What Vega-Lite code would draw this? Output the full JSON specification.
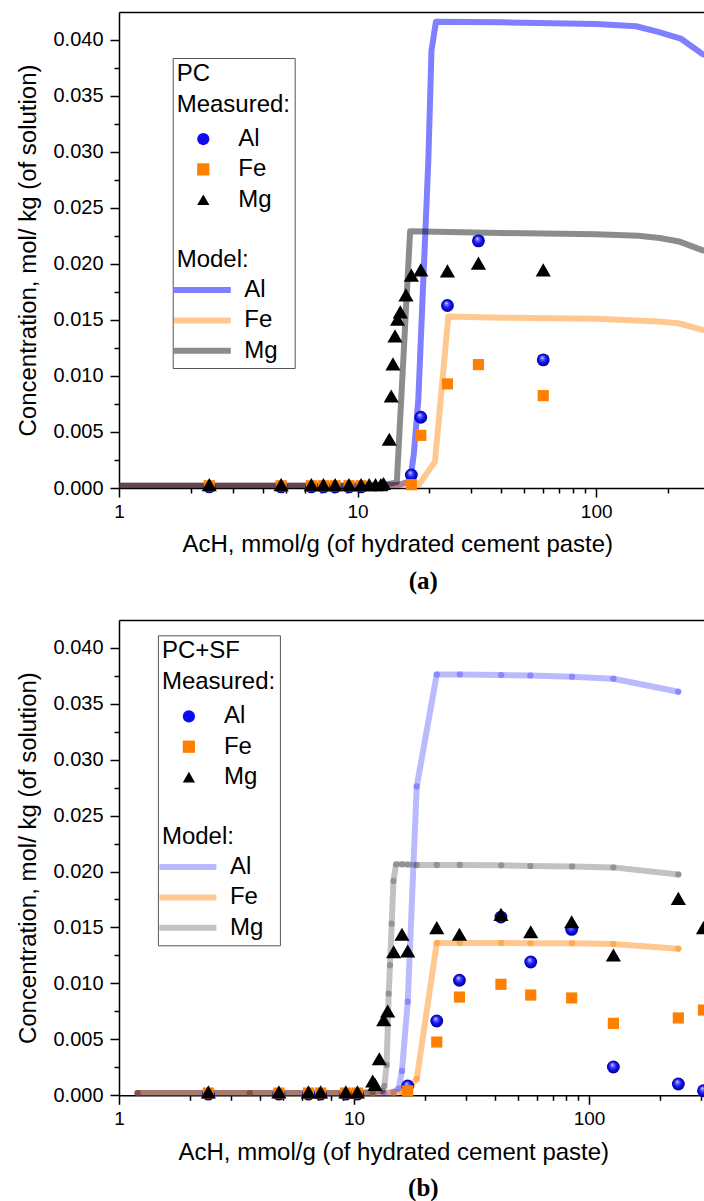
{
  "$schema": "https://vega.github.io/schema/vega-lite/v6.json",
  "background": "white",
  "padding": {"left": 17, "top": 12, "right": 0, "bottom": 0},
  "autosize": {"type": "pad"},
  "config": {
    "font": "Liberation Sans",
    "view": {"stroke": null},
    "axis": {"labelFont": "Liberation Sans", "titleFont": "Liberation Sans", "titleFontWeight": "normal", "domainColor": "black", "tickColor": "black", "labelColor": "black", "titleColor": "black", "domainWidth": 1.5, "tickWidth": 1.5, "grid": false, "labelOverlap": false, "labelFlush": false},
    "legend": {"labelFont": "Liberation Sans", "titleFont": "Liberation Sans", "titleFontSize": 24, "titleFontWeight": "normal", "titleColor": "black", "titleLineHeight": 31, "labelFontSize": 24, "labelColor": "black", "rowPadding": 6.4, "cornerRadius": 0}
  },
  "datasets": {
    "a": [
      {"kind": "model", "key": "Al model", "x": 1, "y": 0.0002}, {"kind": "model", "key": "Al model", "x": 10, "y": 0.0002}, {"kind": "model", "key": "Al model", "x": 15, "y": 0.0003}, {"kind": "model", "key": "Al model", "x": 16.6, "y": 0.0006}, {"kind": "model", "key": "Al model", "x": 17.2, "y": 0.003}, {"kind": "model", "key": "Al model", "x": 17.97, "y": 0.0079}, {"kind": "model", "key": "Al model", "x": 19.8, "y": 0.0293}, {"kind": "model", "key": "Al model", "x": 20.4, "y": 0.039}, {"kind": "model", "key": "Al model", "x": 21.3, "y": 0.0416}, {"kind": "model", "key": "Al model", "x": 40, "y": 0.04155}, {"kind": "model", "key": "Al model", "x": 100, "y": 0.0414}, {"kind": "model", "key": "Al model", "x": 147, "y": 0.0412}, {"kind": "model", "key": "Al model", "x": 182, "y": 0.0407}, {"kind": "model", "key": "Al model", "x": 226, "y": 0.0401}, {"kind": "model", "key": "Al model", "x": 280, "y": 0.0387},
      {"kind": "model", "key": "Fe model", "x": 1, "y": 0.0002}, {"kind": "model", "key": "Fe model", "x": 14, "y": 0.0002}, {"kind": "model", "key": "Fe model", "x": 16.5, "y": 0.0005}, {"kind": "model", "key": "Fe model", "x": 17.6, "y": 0.0005}, {"kind": "model", "key": "Fe model", "x": 18.1, "y": 0.0003}, {"kind": "model", "key": "Fe model", "x": 21.1, "y": 0.00235}, {"kind": "model", "key": "Fe model", "x": 24.0, "y": 0.0153}, {"kind": "model", "key": "Fe model", "x": 40, "y": 0.0152}, {"kind": "model", "key": "Fe model", "x": 100, "y": 0.0151}, {"kind": "model", "key": "Fe model", "x": 182, "y": 0.01485}, {"kind": "model", "key": "Fe model", "x": 221, "y": 0.0147}, {"kind": "model", "key": "Fe model", "x": 280, "y": 0.0141},
      {"kind": "model", "key": "Mg model", "x": 1, "y": 0.0002}, {"kind": "model", "key": "Mg model", "x": 10, "y": 0.0002}, {"kind": "model", "key": "Mg model", "x": 13, "y": 0.0003}, {"kind": "model", "key": "Mg model", "x": 14.6, "y": 0.0005}, {"kind": "model", "key": "Mg model", "x": 16.6, "y": 0.0229}, {"kind": "model", "key": "Mg model", "x": 40, "y": 0.02275}, {"kind": "model", "key": "Mg model", "x": 100, "y": 0.02265}, {"kind": "model", "key": "Mg model", "x": 150, "y": 0.0225}, {"kind": "model", "key": "Mg model", "x": 185, "y": 0.0223}, {"kind": "model", "key": "Mg model", "x": 222, "y": 0.022}, {"kind": "model", "key": "Mg model", "x": 280, "y": 0.0212},
      {"kind": "meas", "key": "Al", "x": 2.39, "y": 0.0001}, {"kind": "meas", "key": "Al", "x": 4.78, "y": 0.0001}, {"kind": "meas", "key": "Al", "x": 6.4, "y": 0.0001}, {"kind": "meas", "key": "Al", "x": 7.19, "y": 0.0001}, {"kind": "meas", "key": "Al", "x": 8.05, "y": 0.0001}, {"kind": "meas", "key": "Al", "x": 9.2, "y": 0.0001}, {"kind": "meas", "key": "Al", "x": 10.34, "y": 0.0001}, {"kind": "meas", "key": "Al", "x": 16.8, "y": 0.00116}, {"kind": "meas", "key": "Al", "x": 18.4, "y": 0.00631}, {"kind": "meas", "key": "Al", "x": 23.8, "y": 0.01628}, {"kind": "meas", "key": "Al", "x": 32.1, "y": 0.02205}, {"kind": "meas", "key": "Al", "x": 60.0, "y": 0.01143},
      {"kind": "meas", "key": "Fe", "x": 2.39, "y": 0.0002}, {"kind": "meas", "key": "Fe", "x": 4.78, "y": 0.0002}, {"kind": "meas", "key": "Fe", "x": 6.4, "y": 0.0002}, {"kind": "meas", "key": "Fe", "x": 7.19, "y": 0.0002}, {"kind": "meas", "key": "Fe", "x": 8.05, "y": 0.0002}, {"kind": "meas", "key": "Fe", "x": 9.2, "y": 0.0002}, {"kind": "meas", "key": "Fe", "x": 10.34, "y": 0.0002}, {"kind": "meas", "key": "Fe", "x": 16.8, "y": 0.0003}, {"kind": "meas", "key": "Fe", "x": 18.4, "y": 0.0047}, {"kind": "meas", "key": "Fe", "x": 23.8, "y": 0.00929}, {"kind": "meas", "key": "Fe", "x": 32.1, "y": 0.01101}, {"kind": "meas", "key": "Fe", "x": 60.0, "y": 0.00824},
      {"kind": "meas", "key": "Mg", "x": 2.39, "y": 0.0003}, {"kind": "meas", "key": "Mg", "x": 4.78, "y": 0.0003}, {"kind": "meas", "key": "Mg", "x": 6.4, "y": 0.0003}, {"kind": "meas", "key": "Mg", "x": 7.19, "y": 0.0003}, {"kind": "meas", "key": "Mg", "x": 8.05, "y": 0.0003}, {"kind": "meas", "key": "Mg", "x": 9.2, "y": 0.0003}, {"kind": "meas", "key": "Mg", "x": 10.34, "y": 0.0003}, {"kind": "meas", "key": "Mg", "x": 11.18, "y": 0.0003}, {"kind": "meas", "key": "Mg", "x": 11.89, "y": 0.0003}, {"kind": "meas", "key": "Mg", "x": 12.52, "y": 0.0003}, {"kind": "meas", "key": "Mg", "x": 12.85, "y": 0.0004}, {"kind": "meas", "key": "Mg", "x": 13.58, "y": 0.00435}, {"kind": "meas", "key": "Mg", "x": 13.84, "y": 0.00821}, {"kind": "meas", "key": "Mg", "x": 14.07, "y": 0.01107}, {"kind": "meas", "key": "Mg", "x": 14.35, "y": 0.01357}, {"kind": "meas", "key": "Mg", "x": 14.71, "y": 0.01506}, {"kind": "meas", "key": "Mg", "x": 15.1, "y": 0.01571}, {"kind": "meas", "key": "Mg", "x": 15.95, "y": 0.01723}, {"kind": "meas", "key": "Mg", "x": 16.8, "y": 0.01899}, {"kind": "meas", "key": "Mg", "x": 18.4, "y": 0.01946}, {"kind": "meas", "key": "Mg", "x": 23.8, "y": 0.01937}, {"kind": "meas", "key": "Mg", "x": 32.1, "y": 0.02006}, {"kind": "meas", "key": "Mg", "x": 60.0, "y": 0.01946}
    ],
    "b": [
      {"kind": "model", "key": "Al model", "x": 1.2, "y": 0.0002}, {"kind": "model", "key": "Al model", "x": 2.4, "y": 0.0002}, {"kind": "model", "key": "Al model", "x": 3.6, "y": 0.0002}, {"kind": "model", "key": "Al model", "x": 4.79, "y": 0.0002}, {"kind": "model", "key": "Al model", "x": 6.4, "y": 0.0002}, {"kind": "model", "key": "Al model", "x": 7.21, "y": 0.0002}, {"kind": "model", "key": "Al model", "x": 9.23, "y": 0.0002}, {"kind": "model", "key": "Al model", "x": 10.34, "y": 0.0002}, {"kind": "model", "key": "Al model", "x": 12.0, "y": 0.0002}, {"kind": "model", "key": "Al model", "x": 13.38, "y": 0.0002}, {"kind": "model", "key": "Al model", "x": 14.75, "y": 0.0003}, {"kind": "model", "key": "Al model", "x": 15.5, "y": 0.0006}, {"kind": "model", "key": "Al model", "x": 16.0, "y": 0.00217}, {"kind": "model", "key": "Al model", "x": 16.93, "y": 0.00837}, {"kind": "model", "key": "Al model", "x": 18.49, "y": 0.02761}, {"kind": "model", "key": "Al model", "x": 22.5, "y": 0.03762}, {"kind": "model", "key": "Al model", "x": 28.2, "y": 0.03762}, {"kind": "model", "key": "Al model", "x": 42.3, "y": 0.03756}, {"kind": "model", "key": "Al model", "x": 56.3, "y": 0.03753}, {"kind": "model", "key": "Al model", "x": 84.7, "y": 0.03741}, {"kind": "model", "key": "Al model", "x": 127, "y": 0.03723}, {"kind": "model", "key": "Al model", "x": 240, "y": 0.03607},
      {"kind": "model", "key": "Fe model", "x": 1.2, "y": 0.0002}, {"kind": "model", "key": "Fe model", "x": 2.4, "y": 0.0002}, {"kind": "model", "key": "Fe model", "x": 3.6, "y": 0.0002}, {"kind": "model", "key": "Fe model", "x": 4.79, "y": 0.0002}, {"kind": "model", "key": "Fe model", "x": 6.4, "y": 0.0002}, {"kind": "model", "key": "Fe model", "x": 7.21, "y": 0.0002}, {"kind": "model", "key": "Fe model", "x": 9.23, "y": 0.0002}, {"kind": "model", "key": "Fe model", "x": 10.34, "y": 0.0002}, {"kind": "model", "key": "Fe model", "x": 12.0, "y": 0.0002}, {"kind": "model", "key": "Fe model", "x": 14.75, "y": 0.0002}, {"kind": "model", "key": "Fe model", "x": 16.0, "y": 0.0003}, {"kind": "model", "key": "Fe model", "x": 16.93, "y": 0.0005}, {"kind": "model", "key": "Fe model", "x": 18.49, "y": 0.00146}, {"kind": "model", "key": "Fe model", "x": 22.5, "y": 0.01361}, {"kind": "model", "key": "Fe model", "x": 28.2, "y": 0.01361}, {"kind": "model", "key": "Fe model", "x": 42.3, "y": 0.01361}, {"kind": "model", "key": "Fe model", "x": 56.3, "y": 0.01358}, {"kind": "model", "key": "Fe model", "x": 84.7, "y": 0.01358}, {"kind": "model", "key": "Fe model", "x": 127, "y": 0.01352}, {"kind": "model", "key": "Fe model", "x": 240, "y": 0.0131},
      {"kind": "model", "key": "Mg model", "x": 1.2, "y": 0.0002}, {"kind": "model", "key": "Mg model", "x": 2.4, "y": 0.0002}, {"kind": "model", "key": "Mg model", "x": 3.6, "y": 0.0002}, {"kind": "model", "key": "Mg model", "x": 4.79, "y": 0.0002}, {"kind": "model", "key": "Mg model", "x": 6.4, "y": 0.0002}, {"kind": "model", "key": "Mg model", "x": 7.21, "y": 0.0002}, {"kind": "model", "key": "Mg model", "x": 9.23, "y": 0.0002}, {"kind": "model", "key": "Mg model", "x": 10.34, "y": 0.0003}, {"kind": "model", "key": "Mg model", "x": 12.0, "y": 0.0003}, {"kind": "model", "key": "Mg model", "x": 13.2, "y": 0.0004}, {"kind": "model", "key": "Mg model", "x": 13.47, "y": 0.00083}, {"kind": "model", "key": "Mg model", "x": 13.77, "y": 0.00271}, {"kind": "model", "key": "Mg model", "x": 14.05, "y": 0.00908}, {"kind": "model", "key": "Mg model", "x": 14.23, "y": 0.01162}, {"kind": "model", "key": "Mg model", "x": 14.47, "y": 0.01534}, {"kind": "model", "key": "Mg model", "x": 14.72, "y": 0.01915}, {"kind": "model", "key": "Mg model", "x": 15.1, "y": 0.02064}, {"kind": "model", "key": "Mg model", "x": 16.0, "y": 0.02064}, {"kind": "model", "key": "Mg model", "x": 16.93, "y": 0.02062}, {"kind": "model", "key": "Mg model", "x": 18.49, "y": 0.02058}, {"kind": "model", "key": "Mg model", "x": 22.5, "y": 0.02058}, {"kind": "model", "key": "Mg model", "x": 28.2, "y": 0.02058}, {"kind": "model", "key": "Mg model", "x": 42.3, "y": 0.02055}, {"kind": "model", "key": "Mg model", "x": 56.3, "y": 0.02049}, {"kind": "model", "key": "Mg model", "x": 84.7, "y": 0.02046}, {"kind": "model", "key": "Mg model", "x": 127, "y": 0.02037}, {"kind": "model", "key": "Mg model", "x": 240, "y": 0.01974},
      {"kind": "meas", "key": "Al", "x": 2.4, "y": 0.0001}, {"kind": "meas", "key": "Al", "x": 4.79, "y": 0.0001}, {"kind": "meas", "key": "Al", "x": 6.4, "y": 0.0001}, {"kind": "meas", "key": "Al", "x": 7.21, "y": 0.0001}, {"kind": "meas", "key": "Al", "x": 9.23, "y": 0.0001}, {"kind": "meas", "key": "Al", "x": 10.34, "y": 0.0001}, {"kind": "meas", "key": "Al", "x": 16.93, "y": 0.00083}, {"kind": "meas", "key": "Al", "x": 22.5, "y": 0.00664}, {"kind": "meas", "key": "Al", "x": 28.1, "y": 0.01028}, {"kind": "meas", "key": "Al", "x": 42.2, "y": 0.01593}, {"kind": "meas", "key": "Al", "x": 56.5, "y": 0.01191}, {"kind": "meas", "key": "Al", "x": 84.4, "y": 0.01483}, {"kind": "meas", "key": "Al", "x": 127, "y": 0.00253}, {"kind": "meas", "key": "Al", "x": 240, "y": 0.00101}, {"kind": "meas", "key": "Al", "x": 307, "y": 0.00041},
      {"kind": "meas", "key": "Fe", "x": 2.4, "y": 0.0002}, {"kind": "meas", "key": "Fe", "x": 4.79, "y": 0.0002}, {"kind": "meas", "key": "Fe", "x": 6.4, "y": 0.0002}, {"kind": "meas", "key": "Fe", "x": 7.21, "y": 0.0002}, {"kind": "meas", "key": "Fe", "x": 9.23, "y": 0.0002}, {"kind": "meas", "key": "Fe", "x": 10.34, "y": 0.0002}, {"kind": "meas", "key": "Fe", "x": 16.93, "y": 0.0004}, {"kind": "meas", "key": "Fe", "x": 22.5, "y": 0.00476}, {"kind": "meas", "key": "Fe", "x": 28.1, "y": 0.00878}, {"kind": "meas", "key": "Fe", "x": 42.2, "y": 0.00992}, {"kind": "meas", "key": "Fe", "x": 56.5, "y": 0.00896}, {"kind": "meas", "key": "Fe", "x": 84.4, "y": 0.0087}, {"kind": "meas", "key": "Fe", "x": 127, "y": 0.00643}, {"kind": "meas", "key": "Fe", "x": 240, "y": 0.00691}, {"kind": "meas", "key": "Fe", "x": 307, "y": 0.00762},
      {"kind": "meas", "key": "Mg", "x": 2.4, "y": 0.0003}, {"kind": "meas", "key": "Mg", "x": 4.79, "y": 0.0003}, {"kind": "meas", "key": "Mg", "x": 6.4, "y": 0.0003}, {"kind": "meas", "key": "Mg", "x": 7.21, "y": 0.0003}, {"kind": "meas", "key": "Mg", "x": 9.23, "y": 0.0003}, {"kind": "meas", "key": "Mg", "x": 10.34, "y": 0.0003}, {"kind": "meas", "key": "Mg", "x": 12.01, "y": 0.00128}, {"kind": "meas", "key": "Mg", "x": 12.29, "y": 0.00098}, {"kind": "meas", "key": "Mg", "x": 12.82, "y": 0.00327}, {"kind": "meas", "key": "Mg", "x": 13.38, "y": 0.00676}, {"kind": "meas", "key": "Mg", "x": 13.91, "y": 0.00753}, {"kind": "meas", "key": "Mg", "x": 14.75, "y": 0.01283}, {"kind": "meas", "key": "Mg", "x": 16.0, "y": 0.01439}, {"kind": "meas", "key": "Mg", "x": 16.93, "y": 0.0129}, {"kind": "meas", "key": "Mg", "x": 22.5, "y": 0.01498}, {"kind": "meas", "key": "Mg", "x": 28.1, "y": 0.01439}, {"kind": "meas", "key": "Mg", "x": 42.2, "y": 0.01617}, {"kind": "meas", "key": "Mg", "x": 56.5, "y": 0.01462}, {"kind": "meas", "key": "Mg", "x": 84.4, "y": 0.01551}, {"kind": "meas", "key": "Mg", "x": 127, "y": 0.01254}, {"kind": "meas", "key": "Mg", "x": 240, "y": 0.0176}, {"kind": "meas", "key": "Mg", "x": 307, "y": 0.01498}
    ]
  },
  "concat": [
    {
      "data": {"name": "a"},
      "width": 585.3,
      "height": 476,
      "title": {"text": "(a)", "orient": "bottom", "frame": "group", "anchor": "middle", "dx": 11.7, "offset": 13, "font": "Liberation Serif", "fontSize": 25, "fontWeight": "bold", "color": "black"},
      "encoding": {
        "y": {"field": "y", "type": "quantitative", "scale": {"domain": [0, 0.04247], "nice": false, "zero": false},
          "axis": {"title": "Concentration, mol/ kg (of solution)", "titleFontSize": 24, "titlePadding": 8, "minExtent": 70, "maxExtent": 70, "labelFontSize": 20, "labelPadding": 7,
            "values": [0, 0.0025, 0.005, 0.0075, 0.01, 0.0125, 0.015, 0.0175, 0.02, 0.0225, 0.025, 0.0275, 0.03, 0.0325, 0.035, 0.0375, 0.04],
            "labelExpr": "abs(datum.value*200 - round(datum.value*200)) < 0.01 ? format(datum.value, '.3f') : ''",
            "tickSize": {"condition": {"test": "abs(datum.value*200 - round(datum.value*200)) < 0.01", "value": 9}, "value": 5}}}
      },
      "layer": [
        {
          "transform": [{"filter": "datum.kind == 'model'"}],
          "mark": {"type": "line", "strokeWidth": 6, "strokeCap": "round", "strokeJoin": "round", "clip": true},
          "encoding": {
            "x": {"field": "x", "type": "quantitative", "scale": {"type": "log", "domain": [1, 283.9], "nice": false},
              "axis": {"orient": "bottom", "title": "AcH, mmol/g (of hydrated cement paste)", "titleFontSize": 24, "titlePadding": 11, "titleX": 278.3, "labelFontSize": 19, "labelPadding": 5,
                "values": [1, 2, 3, 4, 5, 6, 7, 8, 9, 10, 20, 30, 40, 50, 60, 70, 80, 90, 100, 200],
                "labelExpr": "datum.value == 1 || datum.value == 10 || datum.value == 100 ? '' + datum.value : ''",
                "tickSize": {"condition": {"test": "datum.value == 1 || datum.value == 10 || datum.value == 100", "value": 9}, "value": 5}}},
            "stroke": {"field": "key", "type": "nominal",
              "scale": {"domain": ["Al model", "Fe model", "Mg model"], "range": ["rgba(0,0,255,0.5)", "rgba(255,128,0,0.43)", "rgba(0,0,0,0.45)"]},
              "legend": {"orient": "none", "legendX": 57.7, "legendY": 236, "title": "Model:", "titlePadding": 6, "padding": 0,
                "labelExpr": "replace(datum.value, ' model', '')", "symbolType": "M-5,0L5,0", "symbolSize": 130, "symbolStrokeWidth": 6, "symbolOffset": 13.6, "labelOffset": 30}}
          }
        },
        {
          "transform": [{"filter": "datum.kind == 'meas' && datum.key == 'Al'"}],
          "mark": {"type": "point", "shape": "circle", "size": 165, "filled": true, "opacity": 1, "strokeWidth": 0,
            "fill": {"gradient": "radial", "x1": 0.4, "y1": 0.3, "r1": 0, "x2": 0.5, "y2": 0.5, "r2": 0.5,
              "stops": [{"offset": 0, "color": "#ffffff"}, {"offset": 0.22, "color": "#7070ff"}, {"offset": 0.6, "color": "#1212f2"}, {"offset": 1, "color": "#00009a"}]}},
          "encoding": {
            "x": {"field": "x", "type": "quantitative", "scale": {"type": "log", "domain": [1, 283.9], "nice": false}, "axis": null}
          }
        },
        {
          "transform": [{"filter": "datum.kind == 'meas' && datum.key != 'Al'"}],
          "mark": {"type": "point", "filled": true, "opacity": 1, "strokeWidth": 0},
          "encoding": {
            "x": {"field": "x", "type": "quantitative", "scale": {"type": "log", "domain": [1, 283.9], "nice": false},
              "axis": {"orient": "top", "labels": false, "ticks": false, "title": null, "domain": true}},
            "size": {"field": "key", "type": "nominal", "scale": {"type": "ordinal", "domain": ["Al", "Fe", "Mg"], "range": [165, 125, 230]}, "legend": null},
            "color": {"field": "key", "type": "nominal",
              "scale": {"domain": ["Al", "Fe", "Mg", "_1", "_2", "_3", "_4", "_5"], "range": ["#0a0af5", "#ff8000", "#000000", "rgba(0,0,0,0)", "rgba(0,0,0,0)", "rgba(0,0,0,0)", "rgba(0,0,0,0)", "rgba(0,0,0,0)"]},
              "legend": {"orient": "none", "legendX": 53.7, "legendY": 46, "title": ["PC", "Measured:"], "titlePadding": 10, "padding": 4,
                "labelExpr": "indexof(datum.value, '_') == 0 ? '' : datum.value", "symbolSize": 150, "symbolOffset": 14.6, "labelOffset": 23, "strokeColor": "#555555"}},
            "shape": {"field": "key", "type": "nominal",
              "scale": {"domain": ["Al", "Fe", "Mg", "_1", "_2", "_3", "_4", "_5"], "range": ["circle", "square", "triangle-up", "circle", "circle", "circle", "circle", "circle"]},
              "legend": {"orient": "none", "legendX": 53.7, "legendY": 46, "title": ["PC", "Measured:"], "titlePadding": 10, "padding": 4,
                "labelExpr": "indexof(datum.value, '_') == 0 ? '' : datum.value", "symbolSize": 150, "symbolOffset": 14.6, "labelOffset": 23, "strokeColor": "#555555"}}
          }
        }
      ],
      "resolve": {"axis": {"x": "independent"}}
    },
    {
      "data": {"name": "b"},
      "width": 585.3,
      "height": 475.3,
      "title": {"text": "(b)", "orient": "bottom", "frame": "group", "anchor": "middle", "dx": 11.7, "offset": 12, "font": "Liberation Serif", "fontSize": 25, "fontWeight": "bold", "color": "black"},
      "encoding": {
        "y": {"field": "y", "type": "quantitative", "scale": {"domain": [0, 0.04248], "nice": false, "zero": false},
          "axis": {"title": "Concentration, mol/ kg (of solution)", "titleFontSize": 24, "titlePadding": 8, "minExtent": 70, "maxExtent": 70, "labelFontSize": 20, "labelPadding": 7,
            "values": [0, 0.0025, 0.005, 0.0075, 0.01, 0.0125, 0.015, 0.0175, 0.02, 0.0225, 0.025, 0.0275, 0.03, 0.0325, 0.035, 0.0375, 0.04],
            "labelExpr": "abs(datum.value*200 - round(datum.value*200)) < 0.01 ? format(datum.value, '.3f') : ''",
            "tickSize": {"condition": {"test": "abs(datum.value*200 - round(datum.value*200)) < 0.01", "value": 9}, "value": 5}}}
      },
      "layer": [
        {
          "transform": [{"filter": "datum.kind == 'model'"}],
          "mark": {"type": "line", "strokeWidth": 6, "strokeCap": "round", "strokeJoin": "round"},
          "encoding": {
            "x": {"field": "x", "type": "quantitative", "scale": {"type": "log", "domain": [1, 309.5], "nice": false},
              "axis": {"orient": "bottom", "title": "AcH, mmol/g (of hydrated cement paste)", "titleFontSize": 24, "titlePadding": 12, "titleX": 274.3, "labelFontSize": 19, "labelPadding": 5,
                "values": [1, 2, 3, 4, 5, 6, 7, 8, 9, 10, 20, 30, 40, 50, 60, 70, 80, 90, 100, 200, 300],
                "labelExpr": "datum.value == 1 || datum.value == 10 || datum.value == 100 ? '' + datum.value : ''",
                "tickSize": {"condition": {"test": "datum.value == 1 || datum.value == 10 || datum.value == 100", "value": 9}, "value": 5}}},
            "stroke": {"field": "key", "type": "nominal",
              "scale": {"domain": ["Al model", "Fe model", "Mg model"], "range": ["rgba(0,0,255,0.27)", "rgba(255,128,0,0.43)", "rgba(0,0,0,0.24)"]},
              "legend": {"orient": "none", "legendX": 42.9, "legendY": 205, "title": "Model:", "titlePadding": 6, "padding": 0,
                "labelExpr": "replace(datum.value, ' model', '')", "symbolType": "M-5,0L5,0", "symbolSize": 130, "symbolStrokeWidth": 6, "symbolOffset": 14, "labelOffset": 30}}
          }
        },
        {
          "transform": [{"filter": "datum.kind == 'model'"}],
          "mark": {"type": "point", "filled": true, "opacity": 1, "size": 40, "strokeWidth": 0},
          "encoding": {
            "x": {"field": "x", "type": "quantitative", "scale": {"type": "log", "domain": [1, 309.5], "nice": false}, "axis": null},
            "fill": {"field": "key", "type": "nominal",
              "scale": {"domain": ["Al model", "Fe model", "Mg model"], "range": ["rgba(0,0,255,0.27)", "rgba(255,128,0,0.43)", "rgba(0,0,0,0.24)"]},
              "legend": null}
          }
        },
        {
          "transform": [{"filter": "datum.kind == 'meas' && datum.key == 'Al'"}],
          "mark": {"type": "point", "shape": "circle", "size": 165, "filled": true, "opacity": 1, "strokeWidth": 0,
            "fill": {"gradient": "radial", "x1": 0.4, "y1": 0.3, "r1": 0, "x2": 0.5, "y2": 0.5, "r2": 0.5,
              "stops": [{"offset": 0, "color": "#ffffff"}, {"offset": 0.22, "color": "#7070ff"}, {"offset": 0.6, "color": "#1212f2"}, {"offset": 1, "color": "#00009a"}]}},
          "encoding": {
            "x": {"field": "x", "type": "quantitative", "scale": {"type": "log", "domain": [1, 309.5], "nice": false}, "axis": null}
          }
        },
        {
          "transform": [{"filter": "datum.kind == 'meas' && datum.key != 'Al'"}],
          "mark": {"type": "point", "filled": true, "opacity": 1, "strokeWidth": 0},
          "encoding": {
            "x": {"field": "x", "type": "quantitative", "scale": {"type": "log", "domain": [1, 309.5], "nice": false},
              "axis": {"orient": "top", "labels": false, "ticks": false, "title": null, "domain": true}},
            "size": {"field": "key", "type": "nominal", "scale": {"type": "ordinal", "domain": ["Al", "Fe", "Mg"], "range": [165, 125, 230]}, "legend": null},
            "color": {"field": "key", "type": "nominal",
              "scale": {"domain": ["Al", "Fe", "Mg", "_1", "_2", "_3", "_4", "_5"], "range": ["#0a0af5", "#ff8000", "#000000", "rgba(0,0,0,0)", "rgba(0,0,0,0)", "rgba(0,0,0,0)", "rgba(0,0,0,0)", "rgba(0,0,0,0)"]},
              "legend": {"orient": "none", "legendX": 38.9, "legendY": 15.3, "title": ["PC+SF", "Measured:"], "titlePadding": 10, "padding": 4,
                "labelExpr": "indexof(datum.value, '_') == 0 ? '' : datum.value", "symbolSize": 150, "symbolOffset": 15, "labelOffset": 23, "strokeColor": "#555555"}},
            "shape": {"field": "key", "type": "nominal",
              "scale": {"domain": ["Al", "Fe", "Mg", "_1", "_2", "_3", "_4", "_5"], "range": ["circle", "square", "triangle-up", "circle", "circle", "circle", "circle", "circle"]},
              "legend": {"orient": "none", "legendX": 38.9, "legendY": 15.3, "title": ["PC+SF", "Measured:"], "titlePadding": 10, "padding": 4,
                "labelExpr": "indexof(datum.value, '_') == 0 ? '' : datum.value", "symbolSize": 150, "symbolOffset": 15, "labelOffset": 23, "strokeColor": "#555555"}}
          }
        }
      ],
      "resolve": {"axis": {"x": "independent"}}
    }
  ],
  "columns": 1,
  "spacing": 26,
  "resolve": {"scale": {"x": "independent", "y": "independent", "color": "independent", "shape": "independent", "stroke": "independent", "fill": "independent", "size": "independent"}, "legend": {"color": "independent", "shape": "independent", "stroke": "independent", "fill": "independent", "size": "independent"}}
}
